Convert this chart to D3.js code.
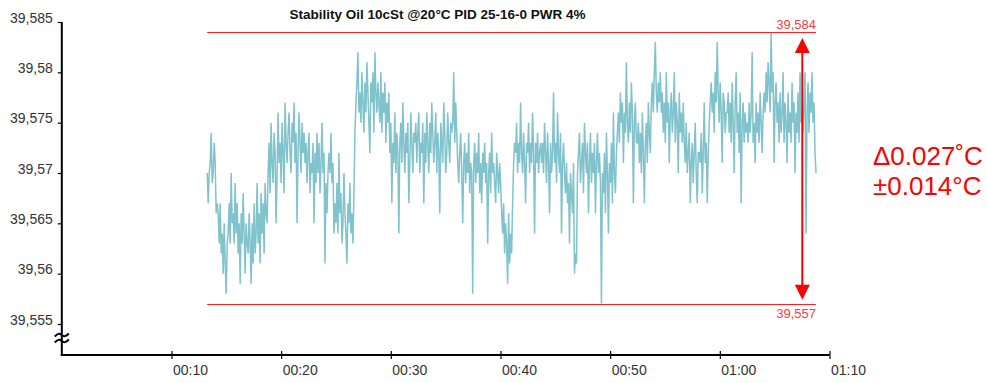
<!DOCTYPE html>
<html>
<head>
<meta charset="utf-8">
<script src="https://cdn.jsdelivr.net/npm/d3@7"></script>
<style>
  html, body { margin: 0; padding: 0; background: #ffffff; }
  svg { display: block; }
</style>
</head>
<body>
<div id="chart"></div>
<script>
// ---------------- data ----------------
const titleText = "Stability Oil 10cSt @20°C PID 25-16-0 PWR 4%";
const yTickValues = [39.555, 39.56, 39.565, 39.57, 39.575, 39.58, 39.585];
const xTickValues = [10, 20, 30, 40, 50, 60, 70];          // minutes
const xDomain = [0, 70];
const yDomain = [39.555, 39.585];
const sampleStartMin = 13.26;   // first sample time (minutes)
const sampleStepMin = 0.0910;   // sampling interval (minutes)
const temps = [
39.570,39.567,39.570,39.571,39.574,39.569,39.570,39.573,39.571,39.566,39.567,
39.566,39.563,39.567,39.562,39.564,39.560,39.565,39.561,39.558,39.563,
39.564,39.567,39.563,39.570,39.565,39.566,39.563,39.569,39.564,39.567,39.562,39.565,39.559,39.566,39.563,39.568,39.564,39.560,39.565,39.563,
39.562,39.566,39.563,39.559,39.565,39.561,39.567,39.562,39.564,39.569,39.563,39.566,39.561,39.568,39.564,39.567,39.562,39.569,39.566,39.565,
39.570,39.573,39.568,39.575,39.571,39.569,39.574,39.572,39.565,39.570,39.576,39.571,39.573,39.569,39.575,39.572,39.568,39.577,39.573,39.571,
39.574,39.576,39.572,39.570,39.575,39.573,39.577,39.571,39.574,39.565,39.572,39.576,39.573,39.570,39.575,39.572,39.574,
39.571,39.573,39.569,39.572,39.574,39.568,39.571,39.570,39.573,39.565,39.572,39.569,39.574,39.570,39.573,39.568,39.571,39.575,39.570,39.572,39.561,39.569,39.566,39.570,39.572,
39.570,39.574,39.569,39.571,39.564,
39.567,39.565,39.569,39.564,39.572,39.566,39.568,39.563,39.565,39.570,39.566,39.564,39.561,39.567,39.565,39.569,39.564,39.566,39.563,39.568,
39.574,39.577,39.579,39.582,39.576,39.578,39.575,39.580,39.577,39.574,39.579,39.576,39.581,39.578,39.575,39.572,39.579,39.577,39.580,39.574,39.582,39.578,39.576,39.579,39.577,39.575,39.580,39.574,39.578,39.576,39.579,39.573,39.577,39.575,39.578,
39.572,39.575,39.567,39.573,39.571,39.576,39.570,39.574,39.572,39.564,39.573,39.575,39.571,39.577,39.573,39.570,39.574,39.572,39.575,39.567,39.571,39.576,39.573,39.570,39.574,
39.573,39.575,39.571,39.574,39.576,39.570,39.573,39.572,39.575,39.567,39.574,39.571,39.576,39.573,39.570,39.575,39.572,39.577,39.574,39.571,39.573,39.576,39.570,39.574,39.572,39.566,39.575,39.573,39.571,39.577,39.574,39.570,39.572,39.576,39.573,39.571,39.575,39.574,
39.575,39.580,39.573,39.577,39.574,
39.571,39.569,39.572,39.574,39.570,39.565,39.571,39.573,39.569,39.572,39.570,39.574,39.568,39.571,39.570,39.558,
39.571,39.573,39.569,39.572,39.570,39.574,39.568,39.571,39.567,39.572,39.570,39.573,39.569,39.571,39.563,39.570,39.572,39.568,39.574,39.570,39.571,39.569,39.567,39.572,39.570,39.568,39.571,39.569,
39.566,39.564,39.567,39.562,39.565,39.563,39.559,39.566,39.561,39.564,39.562,39.567,
39.571,39.573,39.572,39.575,39.570,39.573,39.571,39.577,39.572,39.570,39.574,39.571,39.567,39.573,39.572,39.575,39.570,39.573,39.571,39.576,39.572,39.564,39.573,39.571,39.574,39.570,39.572,39.573,
39.571,39.573,39.570,39.575,39.572,39.569,39.574,39.571,39.566,39.573,39.570,39.572,39.578,39.571,39.573,39.569,39.576,39.572,39.570,39.574,39.564,39.571,39.573,
39.570,39.568,39.571,39.567,39.569,39.563,39.570,39.568,39.566,39.571,39.560,39.562,39.561,
39.570,39.572,39.574,39.569,39.571,39.573,39.568,39.575,39.572,39.570,39.573,39.566,39.571,39.574,39.569,39.572,39.570,39.573,39.566,39.571,39.574,39.570,39.572,39.569,39.557,
39.570,39.568,39.572,39.566,39.574,39.570,39.564,39.571,39.569,39.573,39.567,39.576,39.570,39.568,39.572,
39.574,39.576,39.573,39.578,39.575,39.577,39.571,39.576,39.574,39.581,39.575,39.573,39.577,39.574,39.579,39.576,39.567,39.575,39.577,39.573,
39.573,39.575,39.571,39.574,39.570,39.576,39.572,39.567,39.573,39.575,39.571,39.577,39.574,39.572,
39.577,39.579,39.576,39.580,39.583,39.578,39.576,39.579,39.577,39.580,
39.576,39.578,39.574,39.577,39.573,39.580,39.575,39.577,39.571,39.576,39.578,39.574,39.576,39.580,39.573,39.577,39.575,39.570,39.578,39.574,39.576,39.573,39.577,
39.573,39.571,39.575,39.570,39.572,39.574,39.567,39.571,39.573,39.569,39.572,39.575,39.570,39.567,39.572,
39.572,39.571,39.574,39.568,39.572,39.577,39.571,39.573,39.567,39.572,
39.575,39.577,39.579,39.576,39.578,39.574,39.580,39.577,39.583,39.578,39.575,39.579,39.576,39.571,39.578,39.577,39.574,39.576,
39.576,39.578,39.574,39.577,39.573,39.579,39.575,39.570,39.577,39.580,39.574,39.576,39.572,39.578,39.567,39.575,39.577,39.573,39.576,39.574,
39.575,39.573,39.577,39.574,39.576,39.582,39.573,39.575,39.571,39.577,39.574,39.576,39.573,39.578,39.575,39.572,39.576,
39.578,39.576,39.580,39.577,39.581,39.579,39.576,39.584,39.578,39.580,39.571,39.577,39.579,
39.575,39.577,39.573,39.578,39.574,39.576,39.580,39.573,39.577,39.575,39.571,39.578,39.574,39.576,39.573,39.579,39.575,39.577,39.570,39.576,39.574,39.578,39.573,39.580,39.575,39.576,39.574,
39.577,39.580,39.564,39.576,39.579,39.574,39.578,39.576,39.580,39.575,39.577,39.572,39.570
];
const maxValue = 39.584;
const minValue = 39.557;
const deltaText = "Δ0.027˚C";
const pmText = "±0.014°C";
const arrowTimeMin = 67.52;

// ---------------- layout ----------------
const W = 987, H = 383;
const font = "'Liberation Sans', Arial, Helvetica, sans-serif";
const axisY = 355;
const lineColor = "#80c3cc";
const red = "#ff0000";

const svg = d3.select("#chart").append("svg")
  .attr("width", W).attr("height", H)
  .style("background", "#fff");

const x = d3.scaleLinear().domain(xDomain).range([61.8, 829.5]);
const y = d3.scaleLinear().domain(yDomain).range([324, 22]);

const fmtY = d => String(+d.toFixed(3)).replace(".", ",");
const fmtX = m => {
  const h = Math.floor(m / 60), mm = Math.round(m % 60);
  return String(h).padStart(2, "0") + ":" + String(mm).padStart(2, "0");
};

// title
svg.append("text")
  .attr("x", 437.5).attr("y", 18.5)
  .attr("text-anchor", "middle")
  .attr("font-family", font).attr("font-weight", "bold")
  .attr("font-size", 13.5).attr("fill", "#111")
  .text(titleText);

// data line
const pts = temps.map((v, i) => ({ t: sampleStartMin + i * sampleStepMin, v }));
svg.append("path")
  .datum(pts)
  .attr("fill", "none")
  .attr("stroke", lineColor)
  .attr("stroke-width", 1.5)
  .attr("stroke-linejoin", "miter")
  .attr("d", d3.line().x(d => x(d.t)).y(d => y(d.v)));

// min / max lines
const tStart = pts[0].t, tEnd = pts[pts.length - 1].t;
[maxValue, minValue].forEach(v => {
  svg.append("line")
    .attr("x1", x(tStart)).attr("x2", x(tEnd))
    .attr("y1", Math.round(y(v)) + 0.5).attr("y2", Math.round(y(v)) + 0.5)
    .attr("stroke", "#ff2020").attr("stroke-width", 1);
});
svg.append("text")
  .attr("x", x(tEnd)).attr("y", y(maxValue) - 3.5)
  .attr("text-anchor", "end")
  .attr("font-family", font).attr("font-size", 13).attr("fill", "#ff3a3a")
  .text(fmtY(maxValue));
svg.append("text")
  .attr("x", x(tEnd)).attr("y", y(minValue) + 14)
  .attr("text-anchor", "end")
  .attr("font-family", font).attr("font-size", 13).attr("fill", "#ff3a3a")
  .text(fmtY(minValue));

// double arrow
const ax = x(arrowTimeMin);
const yTop = y(maxValue) + 6, yBot = y(minValue) - 4;
svg.append("line")
  .attr("x1", ax).attr("x2", ax)
  .attr("y1", yTop + 10).attr("y2", yBot - 10)
  .attr("stroke", red).attr("stroke-width", 2);
svg.append("path")
  .attr("d", `M${ax},${yTop} L${ax - 7.5},${yTop + 15} L${ax + 7.5},${yTop + 15} Z`)
  .attr("fill", red);
svg.append("path")
  .attr("d", `M${ax},${yBot} L${ax - 7.5},${yBot - 15} L${ax + 7.5},${yBot - 15} Z`)
  .attr("fill", red);

// annotation text
svg.append("text")
  .attr("x", 873).attr("y", 165)
  .attr("font-family", font).attr("font-size", 26).attr("fill", red)
  .text(deltaText);
svg.append("text")
  .attr("x", 873).attr("y", 195)
  .attr("font-family", font).attr("font-size", 26).attr("fill", red)
  .text(pmText);

// y axis
const gy = svg.append("g").attr("transform", `translate(${x(0)},0)`)
  .call(d3.axisLeft(y).tickValues(yTickValues).tickSize(4).tickPadding(5).tickFormat(fmtY));
gy.select(".domain").remove();
gy.selectAll(".tick line").attr("stroke", "#000").attr("stroke-width", 1.2);
gy.selectAll(".tick text")
  .attr("dy", "0").attr("font-family", font).attr("font-size", 14).attr("fill", "#333");

// x axis
const gx = svg.append("g").attr("transform", `translate(0,${axisY})`)
  .call(d3.axisBottom(x).tickValues(xTickValues).tickSize(4).tickFormat(fmtX));
gx.select(".domain").remove();
gx.selectAll(".tick line").attr("y1", -4).attr("y2", 4).attr("stroke", "#000").attr("stroke-width", 1.2);
gx.selectAll(".tick text")
  .attr("text-anchor", "start").attr("x", 1).attr("y", 19.5).attr("dy", "0")
  .attr("font-family", font).attr("font-size", 14).attr("fill", "#333");

// axis lines
svg.append("line")
  .attr("x1", x(0)).attr("x2", x(0))
  .attr("y1", y(yDomain[1])).attr("y2", axisY + 1)
  .attr("stroke", "#000").attr("stroke-width", 2);
svg.append("line")
  .attr("x1", x(0) - 1).attr("x2", x(xDomain[1]))
  .attr("y1", axisY).attr("y2", axisY)
  .attr("stroke", "#000").attr("stroke-width", 2);

// axis break marks
[335, 341].forEach(by => {
  const x0 = x(0);
  svg.append("path")
    .attr("d", `M${x0 - 7},${by + 1.5} Q${x0 - 3},${by - 3} ${x0},${by} Q${x0 + 3},${by + 3} ${x0 + 7},${by - 1.5}`)
    .attr("fill", "none").attr("stroke", "#000").attr("stroke-width", 2);
});
</script>
</body>
</html>
